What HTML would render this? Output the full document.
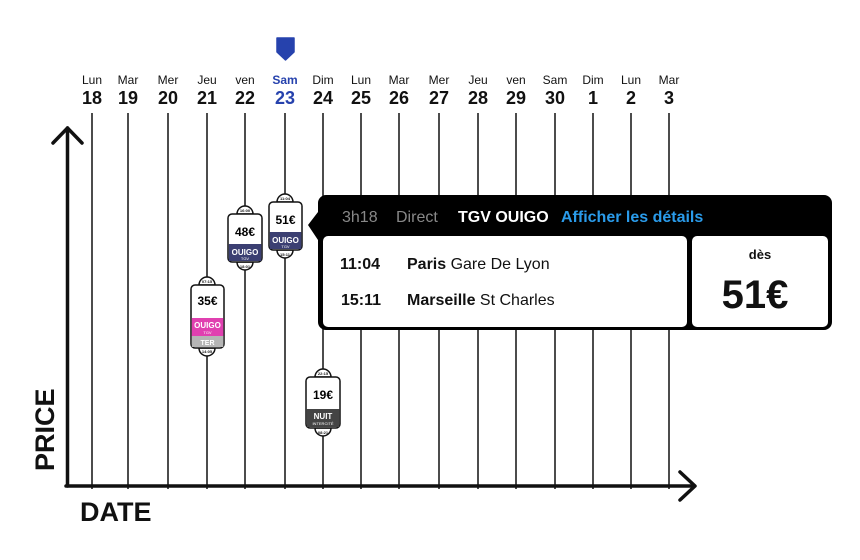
<!DOCTYPE html>
<html><head><meta charset="utf-8"><style>
html,body{margin:0;padding:0;background:#fff}
svg{display:block}
text{font-family:"Liberation Sans","DejaVu Sans",sans-serif}
</style></head><body>
<svg width="860" height="560" viewBox="0 0 860 560" xmlns="http://www.w3.org/2000/svg">
<!-- header marker -->
<path d="M277 38 h17 v14 l-8.5 8 l-8.5 -8 z" fill="#2642ad" stroke="#2642ad" stroke-width="1.5" stroke-linejoin="round"/>
<g font-size="12" text-anchor="middle" fill="#111">
<text x="92" y="84">Lun</text><text x="128" y="84">Mar</text><text x="168" y="84">Mer</text><text x="207" y="84">Jeu</text><text x="245" y="84">ven</text><text x="285" y="84" fill="#2642ad" font-weight="bold">Sam</text><text x="323" y="84">Dim</text><text x="361" y="84">Lun</text><text x="399" y="84">Mar</text><text x="439" y="84">Mer</text><text x="478" y="84">Jeu</text><text x="516" y="84">ven</text><text x="555" y="84">Sam</text><text x="593" y="84">Dim</text><text x="631" y="84">Lun</text><text x="669" y="84">Mar</text>
</g>
<g font-size="18" font-weight="bold" text-anchor="middle" fill="#111">
<text x="92" y="104">18</text><text x="128" y="104">19</text><text x="168" y="104">20</text><text x="207" y="104">21</text><text x="245" y="104">22</text><text x="285" y="104" fill="#2642ad">23</text><text x="323" y="104">24</text><text x="361" y="104">25</text><text x="399" y="104">26</text><text x="439" y="104">27</text><text x="478" y="104">28</text><text x="516" y="104">29</text><text x="555" y="104">30</text><text x="593" y="104">1</text><text x="631" y="104">2</text><text x="669" y="104">3</text>
</g>
<g stroke="#111" stroke-width="1.5">
<line x1="92" y1="113" x2="92" y2="489"/><line x1="128" y1="113" x2="128" y2="489"/><line x1="168" y1="113" x2="168" y2="489"/><line x1="207" y1="113" x2="207" y2="489"/><line x1="245" y1="113" x2="245" y2="489"/><line x1="285" y1="113" x2="285" y2="489"/><line x1="323" y1="113" x2="323" y2="489"/><line x1="361" y1="113" x2="361" y2="489"/><line x1="399" y1="113" x2="399" y2="489"/><line x1="439" y1="113" x2="439" y2="489"/><line x1="478" y1="113" x2="478" y2="489"/><line x1="516" y1="113" x2="516" y2="489"/><line x1="555" y1="113" x2="555" y2="489"/><line x1="593" y1="113" x2="593" y2="489"/><line x1="631" y1="113" x2="631" y2="489"/><line x1="669" y1="113" x2="669" y2="489"/>
</g>
<!-- axes -->
<g stroke="#111" stroke-width="3.5" fill="none" stroke-linecap="round" stroke-linejoin="round">
<line x1="67.5" y1="128" x2="67.5" y2="486"/><line x1="66" y1="486" x2="694" y2="486"/>
<path d="M53 143 L67.5 128 L82 143"/><path d="M680 472 L695 486 L680 500"/>
</g>
<text x="0" y="0" font-size="27" font-weight="bold" transform="translate(54 471) rotate(-90)" fill="#111">PRICE</text>
<text x="80" y="521" font-size="27" font-weight="bold" fill="#111">DATE</text>

<!-- pills -->
<g stroke="#111" stroke-width="1.5">
<!-- 35 -->
<path d="M199 285 a8 8 0 0 1 16 0 z" fill="#fff"/><path d="M199 348 a8 8 0 0 0 16 0 z" fill="#fff"/>
<rect x="191" y="285" width="33" height="63" rx="4" fill="#fff"/>
<rect x="191.8" y="318" width="31.5" height="18" fill="#e040b0" stroke="none"/>
<rect x="191.8" y="336" width="31.5" height="11" fill="#b5b5b5" stroke="none"/>
<!-- 48 -->
<path d="M237 214 a8 8 0 0 1 16 0 z" fill="#fff"/><path d="M237 262 a8 8 0 0 0 16 0 z" fill="#fff"/>
<rect x="228" y="214" width="34" height="48" rx="4" fill="#fff"/>
<rect x="228.8" y="244" width="32.5" height="17" fill="#3b3f72" stroke="none"/>
<!-- 51 -->
<path d="M277 202 a8 8 0 0 1 16 0 z" fill="#fff"/><path d="M277 250 a8 8 0 0 0 16 0 z" fill="#fff"/>
<rect x="269" y="202" width="33" height="48" rx="4" fill="#fff"/>
<rect x="269.8" y="232" width="31.5" height="17" fill="#3b3f72" stroke="none"/>
<!-- 19 -->
<path d="M315 377 a8 8 0 0 1 16 0 z" fill="#fff"/><path d="M315 428 a8 8 0 0 0 16 0 z" fill="#fff"/>
<rect x="306" y="377" width="34" height="51" rx="4" fill="#fff"/>
<rect x="306.8" y="409" width="32.5" height="18" fill="#444" stroke="none"/>
</g>
<g font-weight="bold" text-anchor="middle">
<text x="207.5" y="305" font-size="12">35€</text>
<text x="245" y="236" font-size="12">48€</text>
<text x="285.5" y="224" font-size="12">51€</text>
<text x="323" y="399" font-size="12">19€</text>
<g font-size="8" fill="#fff"><text x="207.5" y="328">OUIGO</text><text x="245" y="255">OUIGO</text><text x="285.5" y="243">OUIGO</text><text x="323" y="419">NUIT</text><text x="207.5" y="345" font-size="7">TER</text></g>
<g font-size="4" fill="#fff" font-weight="normal"><text x="207.5" y="334">TGV</text><text x="245" y="260">TGV</text><text x="285.5" y="248">TGV</text><text x="323" y="425">INTERCITÉ</text></g>
<g font-size="4" fill="#111"><text x="207" y="283">07:15</text><text x="207" y="353">14:05</text><text x="245" y="212">16:00</text><text x="245" y="268">18:01</text><text x="285" y="200">11:04</text><text x="285" y="256">15:11</text><text x="323" y="375">22:15</text><text x="323" y="434">08:21</text></g>
</g>

<!-- tooltip -->
<path d="M326 195 H824 a8 8 0 0 1 8 8 V322 a8 8 0 0 1 -8 8 H326 a8 8 0 0 1 -8 -8 V240 L308 225 L318 212 V203 a8 8 0 0 1 8 -8 z" fill="#000"/>
<rect x="323" y="236" width="364" height="91" rx="5" fill="#fff"/>
<rect x="692" y="236" width="136" height="91" rx="5" fill="#fff"/>
<text x="342" y="222" font-size="16" fill="#888">3h18</text>
<text x="396" y="222" font-size="16" fill="#888">Direct</text>
<text x="458" y="222" font-size="16" font-weight="bold" fill="#fff">TGV OUIGO</text>
<text x="561" y="222" font-size="16" font-weight="bold" fill="#2a9bea">Afficher les détails</text>
<text x="340" y="269" font-size="16" font-weight="bold" fill="#111">11:04</text>
<text x="407" y="269" font-size="16" fill="#111"><tspan font-weight="bold">Paris</tspan> Gare De Lyon</text>
<text x="341" y="305" font-size="16" font-weight="bold" fill="#111">15:11</text>
<text x="407" y="305" font-size="16" fill="#111"><tspan font-weight="bold">Marseille</tspan> St Charles</text>
<text x="760" y="259" font-size="13" font-weight="bold" text-anchor="middle" fill="#111">dès</text>
<text x="755" y="308" font-size="40" font-weight="bold" text-anchor="middle" fill="#111">51€</text>
</svg>
</body></html>
